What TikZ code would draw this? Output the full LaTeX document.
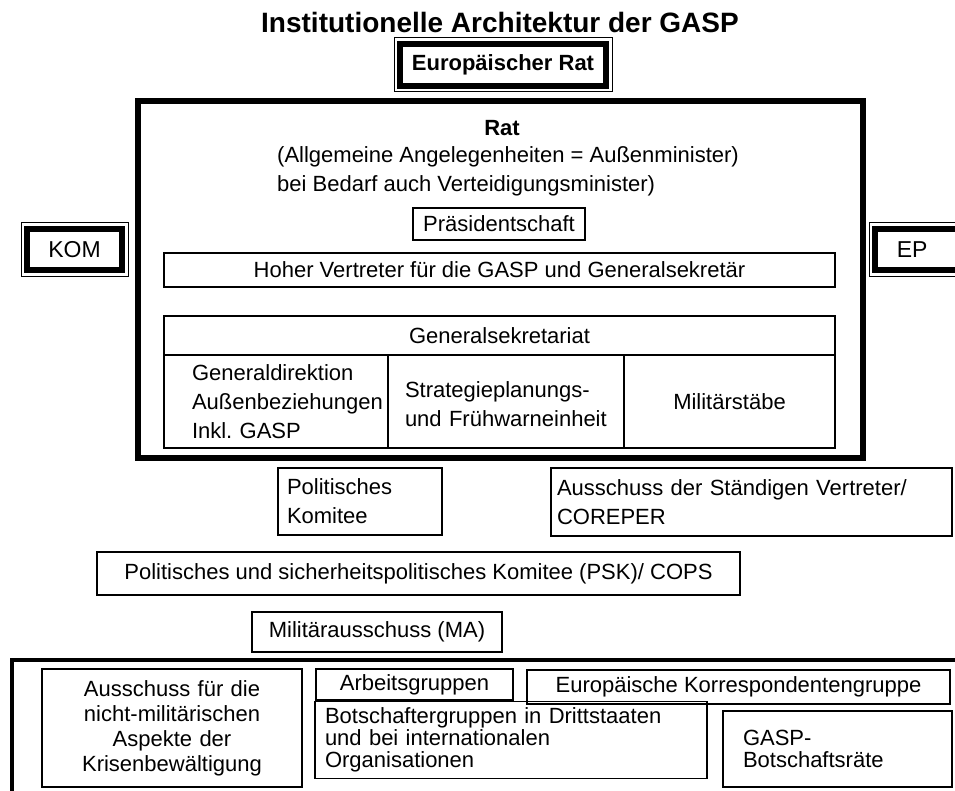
\documentclass[tikz,border=0pt]{standalone}
\usepackage{fontspec}
\setmainfont{Liberation Sans}
\usetikzlibrary{positioning}
\frenchspacing

\newcommand{\fsn}{\fontsize{22}{29}\selectfont}
\newcommand{\fst}{\fontsize{22}{22}\selectfont}

\tikzset{
  box/.style={draw, line width=1.3, inner sep=0, outer sep=0, font=\fsn},
  heavy/.style={draw, line width=6, inner sep=0, font=\fsn},
  thinframe/.style={line width=1},
  txt/.style={inner sep=0, font=\fsn}
}

\begin{document}
\begin{tikzpicture}[x=1pt,y=-1pt]
\useasboundingbox (0,0) rectangle (955,791);

% title and European Council
\node[txt, font=\fontsize{28}{30}\selectfont\bfseries] (title) at (500,22) {Institutionelle Architektur der GASP};
\node[heavy, font=\fontsize{22}{24}\selectfont\bfseries, minimum width=206, minimum height=42] (er) at (503,65) {Europäischer Rat};
\draw[thinframe] ([shift={(-3,-3)}]er.north west) rectangle ([shift={(3,3)}]er.south east);

% Council frame
\node[heavy, minimum width=725, minimum height=357] (rat) at (500.5,279.5) {};
\node[txt, font=\fontsize{22}{24}\selectfont\bfseries] (rattitle) at (502,128) {Rat};
\node[txt, anchor=west] (allg) at (277,157) {(Allgemeine Angelegenheiten = Außenminister)};
\node[txt, anchor=west] (bedarf) at (277,186) {bei Bedarf auch Verteidigungsminister)};
\node[box, minimum width=172, minimum height=32] (praes) at (499,224) {Präsidentschaft};
\node[box, minimum width=671, minimum height=34] (hv) at (499.5,270) {Hoher Vertreter für die GASP und Generalsekretär};

% General Secretariat
\node[box, minimum width=671, minimum height=39] (gs) at (499.5,335.5) {Generalsekretariat};
\node[box, minimum width=224, minimum height=93, align=left, inner xsep=28, text width=168] (gd) at (276,401.5) {Generaldirektion\\Außenbeziehungen\\Inkl. GASP};
\node[box, minimum width=236, minimum height=93, align=left, inner xsep=17, text width=202, text depth=24] (sp) at (506,401.5) {Strategieplanungs-\\und Frühwarneinheit};
\node[box, minimum width=211, minimum height=93] (mil) at (729.5,401.5) {Militärstäbe};

% Commission and Parliament
\node[heavy, font=\fontsize{23}{25}\selectfont, minimum width=95, minimum height=41.5] (kom) at (74.5,249.75) {KOM};
\draw[thinframe] ([shift={(-3,-3)}]kom.north west) rectangle ([shift={(3,3)}]kom.south east);
\node[heavy, font=\fontsize{23}{25}\selectfont, minimum width=89.5, minimum height=41.5, align=left, inner xsep=21.5, text width=46.5] (ep) at (920,249.75) {EP};
\draw[thinframe] ([shift={(-3,-3)}]ep.north west) rectangle ([shift={(3,3)}]ep.south east);

% committees
\node[box, minimum width=164, minimum height=67, align=left, inner xsep=9, text width=146] (pk) at (360,501.5) {Politisches\\Komitee};
\node[box, minimum width=401, minimum height=68, align=left, inner xsep=6, text width=389] (coreper) at (751.5,502) {Ausschuss der Ständigen Vertreter/\\COREPER};
\node[box, minimum width=643, minimum height=43] (psk) at (418.5,573.5) {Politisches und sicherheitspolitisches Komitee (PSK)/ COPS};
\node[box, minimum width=250, minimum height=40] (ma) at (377,632) {Militärausschuss (MA)};

% working level
\draw[line width=4] (12,659.5) rectangle (975,810);
\node[box, minimum width=260, minimum height=118, align=center, text width=250, font=\fontsize{22}{25}\selectfont] (civcom) at (172,728) {Ausschuss für die\\nicht-militärischen\\Aspekte der\\Krisenbewältigung};
\node[box, minimum width=197, minimum height=31] (ag) at (414.5,684.5) {Arbeitsgruppen};
\node[box, minimum width=423, minimum height=34] (ekg) at (738.5,687) {Europäische Korrespondentengruppe};
\node[box, minimum width=392, minimum height=77, align=left, inner xsep=10, text width=372, font=\fst] (bg) at (511,740) {Botschaftergruppen in Drittstaaten\\und bei internationalen\\Organisationen};
\node[box, minimum width=229, minimum height=76, align=left, inner xsep=20, text width=189, font=\fst] (br) at (837.5,749) {GASP-\\Botschaftsräte};
\end{tikzpicture}
\end{document}
